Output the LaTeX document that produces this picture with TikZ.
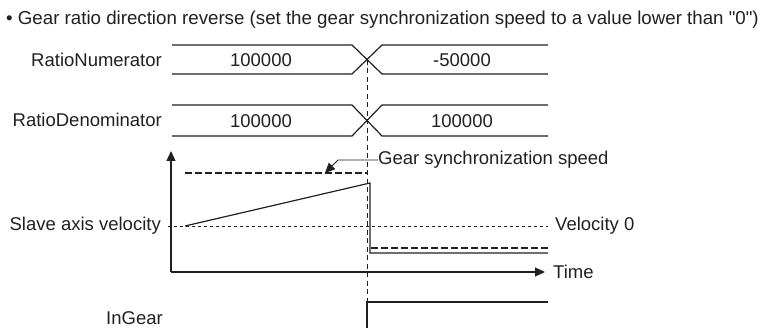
\documentclass[tikz,border=0pt]{standalone}
\usepackage{fontspec}
\setmainfont{Liberation Sans}
\usetikzlibrary{arrows.meta,positioning}
\definecolor{InkBlack}{HTML}{231F20}

\begin{document}
\begin{tikzpicture}[x=1pt, y=-1pt,
    txt/.style={font=\fontsize{18.5}{20}\selectfont, text=InkBlack, inner sep=0pt},
    label/.style={txt, anchor=east},
    sig/.style={draw=InkBlack, line width=1.2pt},
    sync/.style={draw=InkBlack, line width=1.2pt, dash pattern=on 7pt off 3pt},
    guide/.style={draw=InkBlack, line width=0.8pt, dash pattern=on 5pt off 3.5pt},
    zero/.style={draw=InkBlack, line width=0.7pt, dash pattern=on 3pt off 3pt},
    arr/.style={-{Triangle[length=10pt, width=9pt]}, draw=InkBlack, line width=1.2pt}
  ]
    \useasboundingbox (0,0) rectangle (760,328);

    % title
    \node[txt, anchor=west, font=\fontsize{18.7}{20}\selectfont] (title) at (6,20) {• Gear ratio direction reverse (set the gear synchronization speed to a value lower than \textquotedbl0\textquotedbl)};

    % signal names
    \node[label] (num) at (162,60) {RatioNumerator};
    \node[label] (den) at (162,120) {RatioDenominator};
    \node[label] (vel) at (161,226) {Slave axis velocity};
    \node[label] (ingear) at (163,318) {InGear};

    % ratio buses
    \draw[sig] (172,45) -- (352,45) -- (382,74) -- (548,74);
    \draw[sig] (172,74) -- (352,74) -- (382,45) -- (548,45);
    \node[txt] (numA) at (261,60) {100000};
    \node[txt] (numB) at (462,60) {-50000};

    \draw[sig] (172,105) -- (352,105) -- (382,136) -- (548,136);
    \draw[sig] (172,136) -- (352,136) -- (382,105) -- (548,105);
    \node[txt] (denA) at (261,121) {100000};
    \node[txt] (denB) at (462,121) {100000};

    % switching instant
    \coordinate (sw) at (367,60);
    \draw[guide] (sw) -- (367,328);

    % velocity graph
    \coordinate (origin) at (171,272);
    \coordinate (ytip) at (171,151);
    \coordinate (xtip) at (545,272);
    \draw[arr] (origin) -- (ytip);
    \draw[arr] (origin) -- (xtip);
    \node[txt, right=8pt of xtip] (time) {Time};

    \draw[zero] (168,226) -- (548,226);
    \node[txt, anchor=west] (vzero) at (555,226) {Velocity 0};

    \draw[sync] (185,173) -- (367,173);
    \draw[sync] (371,248) -- (548,248);
    \draw[sig] (185,226) -- (370,183) -- (370,253) -- (548,253);

    \node[txt, anchor=west] (syncLbl) at (378,160) {Gear synchronization speed};
    \coordinate (synctip) at (325,173);
    \draw[arr, line width=0.9pt] (syncLbl.west) -- ++(-40,0) -- (synctip);

    % InGear
    \draw[sig] (367,328) -- (367,302) -- (548,302);
\end{tikzpicture}
\end{document}
